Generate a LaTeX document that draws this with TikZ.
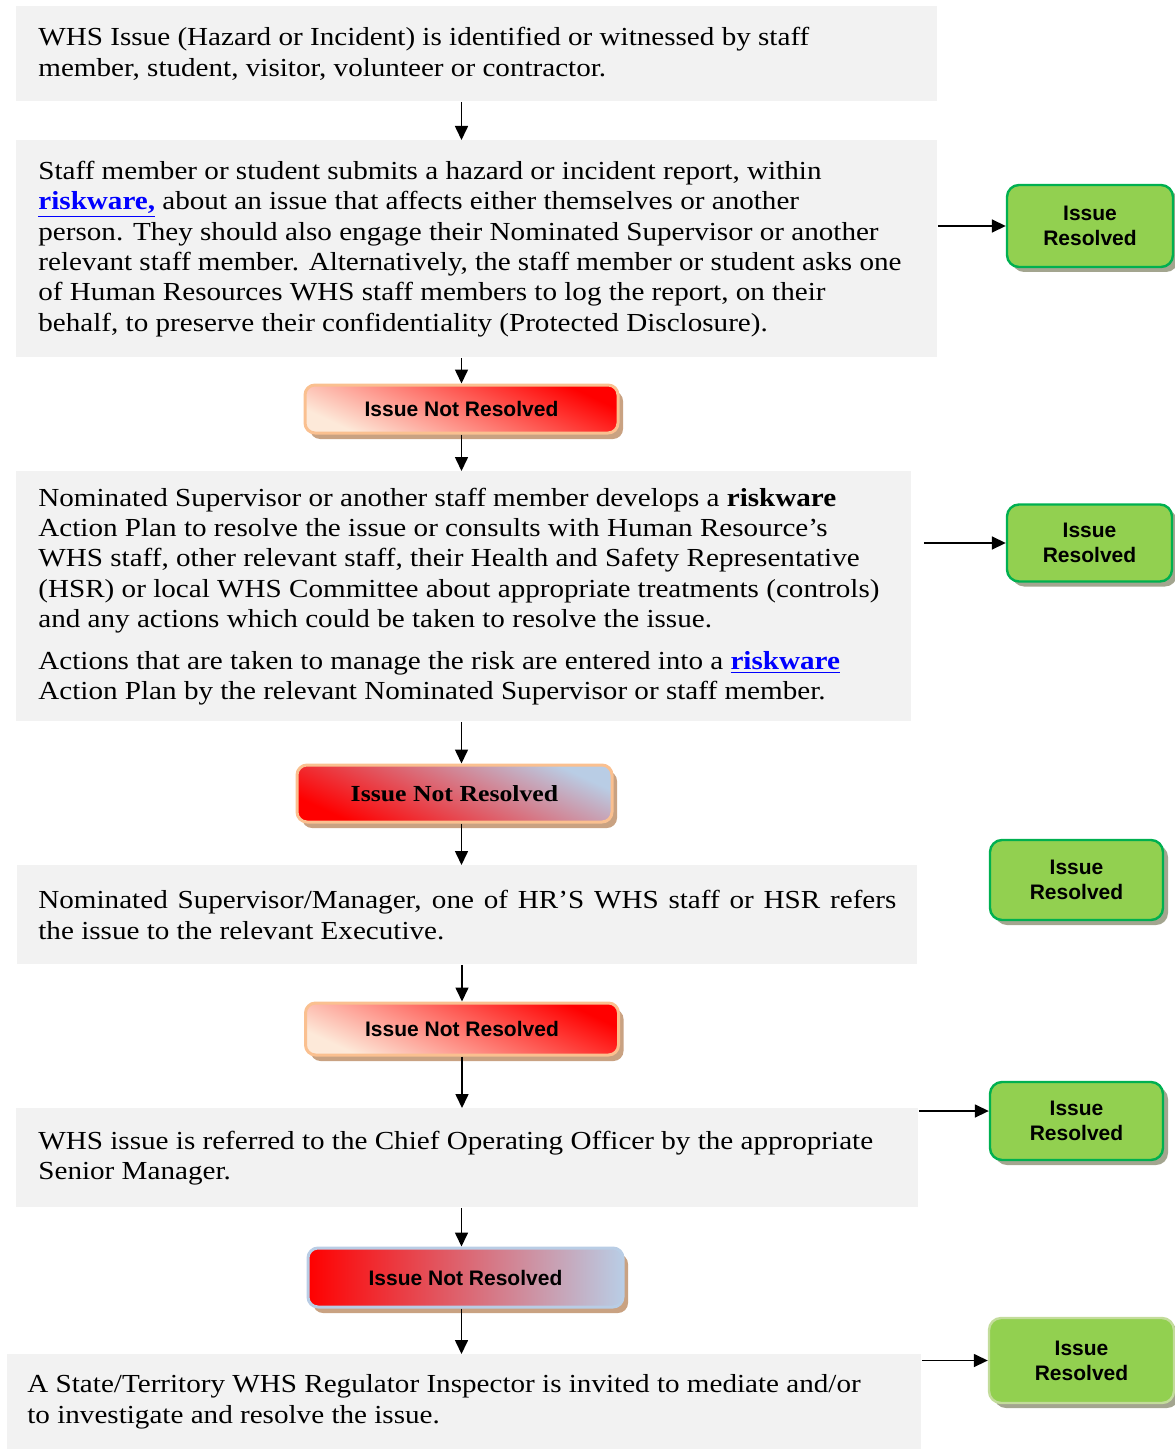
\documentclass[tikz,border=0pt]{standalone}
\usepackage{fontspec}
\setmainfont{Liberation Serif}[FakeStretch=1.12]
\newfontfamily\tagfont{Liberation Sans}
\usetikzlibrary{positioning,shadows,arrows.meta}

\definecolor{boxgray}{HTML}{F2F2F2}
\definecolor{grnfill}{HTML}{92D050}
\definecolor{grnline}{HTML}{00B050}
\definecolor{grnpale}{HTML}{C3DC9B}
\definecolor{grnshadow}{HTML}{A3A58F}
\definecolor{peach}{HTML}{FAC090}
\definecolor{peachlight}{HTML}{FDE9D9}
\definecolor{tanshadow}{HTML}{C9A282}
\definecolor{blueish}{HTML}{B9CDE5}
\definecolor{linkblue}{HTML}{0000FF}

\newcommand{\rwlink}[1]{\textcolor{linkblue}{\underline{\textbf{#1}}}}

\tikzset{
    graybox/.style={fill=boxgray, inner sep=0pt, anchor=north west},
    bodytext/.style={align=left, inner sep=0pt, font=\fontsize{13}{15.2}\selectfont},
    okbox/.style={rounded corners=6pt, draw=grnline, line width=1.2pt, fill=grnfill,
        align=center, font=\tagfont\bfseries\fontsize{10.5}{12.5}\selectfont,
        drop shadow={shadow xshift=2.5pt, shadow yshift=-2.5pt, fill=grnshadow, opacity=1}},
    notbox/.style={rounded corners=5pt, draw=peach, line width=1.5pt,
        font=\tagfont\bfseries\fontsize{10.5}{12.5}\selectfont,
        drop shadow={shadow xshift=2.5pt, shadow yshift=-3pt, fill=tanshadow, opacity=1}},
    >={Triangle[length=7pt,width=6.5pt]}
}

\begin{document}
\begin{tikzpicture}[x=0.5pt, y=-0.5pt]
        \useasboundingbox (0,0) rectangle (1174,1449);

        % grey steps
        \node[graybox, minimum width=460.5pt, minimum height=47.5pt] (s1) at (16,6) {};
        \node[bodytext, right=11pt of s1.west] (t1) {WHS Issue (Hazard or Incident) is identified or witnessed by staff\\
            member, student, visitor, volunteer or contractor.};

        \node[graybox, minimum width=460.5pt, minimum height=108.5pt] (s2) at (16,140) {};
        \node[bodytext, right=11pt of s2.west] (t2) {Staff member or student submits a hazard or incident report, within\\
            \rwlink{riskware,} about an issue that affects either themselves or another\\
            person. They should also engage their Nominated Supervisor or another\\
            relevant staff member. Alternatively, the staff member or student asks one\\
            of Human Resources WHS staff members to log the report, on their\\
            behalf, to preserve their confidentiality (Protected Disclosure).};

        \node[graybox, minimum width=447.5pt, minimum height=125pt] (s3) at (16,471) {};
        \node[bodytext, right=11pt of s3.west] (t3) {Nominated Supervisor or another staff member develops a \textbf{riskware}\\
            Action Plan to resolve the issue or consults with Human Resource’s\\
            WHS staff, other relevant staff, their Health and Safety Representative\\
            (HSR) or local WHS Committee about appropriate treatments (controls)\\
            and any actions which could be taken to resolve the issue.\\[5.5pt]
            Actions that are taken to manage the risk are entered into a \rwlink{riskware}\\
            Action Plan by the relevant Nominated Supervisor or staff member.};

        \node[graybox, minimum width=450pt, minimum height=49.5pt] (s4) at (17,865) {};
        \node[bodytext, right=10.5pt of s4.west] (t4) {\makebox[429pt][s]{Nominated Supervisor/Manager, one of HR’S WHS staff or HSR refers}\\
            the issue to the relevant Executive.};

        \node[graybox, minimum width=451pt, minimum height=49.5pt] (s5) at (16,1108) {};
        \node[bodytext, right=11pt of s5.west] (t5) {WHS issue is referred to the Chief Operating Officer by the appropriate\\
            Senior Manager.};

        \node[graybox, minimum width=457pt, minimum height=47.5pt] (s6) at (7,1354) {};
        \node[bodytext, right=10pt of s6.west] (t6) {A State/Territory WHS Regulator Inspector is invited to mediate and/or\\
            to investigate and resolve the issue.};

        % not resolved
        \node[notbox, minimum width=156.5pt, minimum height=24pt,
            top color=red, middle color=red, bottom color=peachlight, shading angle=-25] (r1) at (461.5,409) {Issue Not Resolved};
        \node[notbox, minimum width=157.5pt, minimum height=28.5pt,
            font=\bfseries\fontsize{11.5}{13}\selectfont,
            top color=blueish, middle color=red!50!blueish, bottom color=red, shading angle=-25] (r2) at (454.5,793.5) {Issue Not Resolved};
        \node[notbox, minimum width=156.5pt, minimum height=26pt,
            top color=red, middle color=red, bottom color=peachlight, shading angle=-25] (r3) at (462,1029) {Issue Not Resolved};
        \node[notbox, minimum width=157.5pt, minimum height=29.5pt, draw=blueish,
            left color=red, middle color=red!65!blueish, right color=blueish] (r4) at (465.5,1277.5) {Issue Not Resolved};

        % resolved
        \node[okbox, minimum width=83pt, minimum height=41pt] (g1) at (1090,226) {Issue\\Resolved};
        \node[okbox, minimum width=82.5pt, minimum height=38.5pt] (g2) at (1089.5,543) {Issue\\Resolved};
        \node[okbox, minimum width=86.5pt, minimum height=40pt] (g3) at (1076.5,880) {Issue\\Resolved};
        \node[okbox, minimum width=86.5pt, minimum height=39pt] (g4) at (1076.5,1121) {Issue\\Resolved};
        \node[okbox, minimum width=92.5pt, minimum height=42.5pt, draw=grnpale] (g5) at (1081.5,1360.5) {Issue\\Resolved};

        % down the chain
        \draw[->, thick] (s1.south -| r1.north) -- (s2.north -| r1.north);
        \draw[->, thick] (s2.south -| r1.north) -- (r1.north);
        \draw[->, thick] (r1.south) -- (r1.south |- s3.north);
        \draw[->, thick] (s3.south -| r1.north) -- (r2.north -| r1.north);
        \draw[->, thick] (r2.south -| r1.north) -- (s4.north -| r1.north);
        \draw[->, thick] (s4.south -| r3.north) -- (r3.north);
        \draw[->, thick] (r3.south) -- (r3.south |- s5.north);
        \draw[->, thick] (s5.south -| r1.north) -- (r4.north -| r1.north);
        \draw[->, thick] (r4.south -| r1.north) -- (s6.north -| r1.north);

        % across to resolved
        \draw[->, thick] (s2.east |- g1.west) -- (g1.west);
        \draw[->, thick] ([xshift=6pt]s3.east |- g2.west) -- (g2.west);
        \draw[->, thick] ([yshift=5pt]g4.west -| s5.east) -- ([yshift=5pt]g4.west);
        \draw[->, thick] (s6.east |- g5.west) -- (g5.west);
    \end{tikzpicture}
\end{document}
